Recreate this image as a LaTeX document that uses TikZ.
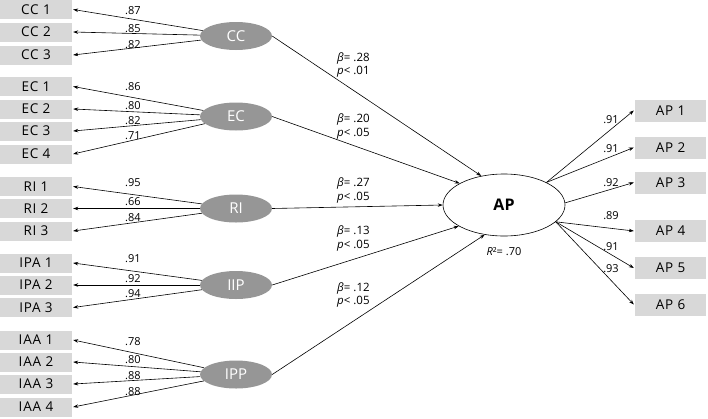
\documentclass[tikz,border=0pt]{standalone}
\usepackage{fontspec}
\setmainfont{Open Sans}
\newfontfamily\boxfont[LetterSpace=6]{Open Sans}
\usetikzlibrary{arrows.meta,shapes.geometric}
\definecolor{boxgray}{RGB}{216,216,216}
\definecolor{ellgray}{RGB}{150,150,150}
\begin{document}
\begin{tikzpicture}[x=1pt,y=-1pt,
  lbox/.style={fill=boxgray,minimum width=72pt,minimum height=19pt,inner sep=0pt,font=\boxfont\fontsize{13.5}{15}\selectfont},
  rbox/.style={fill=boxgray,minimum width=71pt,minimum height=22pt,inner sep=0pt,font=\boxfont\fontsize{13.5}{15}\selectfont},
  lat/.style={ellipse,fill=ellgray,minimum width=72pt,minimum height=28pt,inner sep=0pt,text=white,font=\fontsize{15}{17}\selectfont},
  arr/.style={-{Stealth[length=5pt,width=3.5pt]},line width=0.6pt},
  lab/.style={inner sep=0pt,font=\fontsize{11}{12}\selectfont},
  beta/.style={inner sep=0pt,align=left,font=\fontsize{11.5}{13.5}\selectfont}]
\useasboundingbox (0,0) rectangle (708,418);
% left boxes
\node[lbox] (cc1) at (36,9.5) {CC 1};
\node[lbox] (cc2) at (36,32) {CC 2};
\node[lbox] (cc3) at (36,55) {CC 3};
\node[lbox] (ec1) at (36,86.5) {EC 1};
\node[lbox] (ec2) at (36,109) {EC 2};
\node[lbox] (ec3) at (36,131) {EC 3};
\node[lbox] (ec4) at (36,154) {EC 4};
\node[lbox] (ri1) at (36,186.5) {RI 1};
\node[lbox] (ri2) at (36,208.5) {RI 2};
\node[lbox] (ri3) at (36,231) {RI 3};
\node[lbox] (ipa1) at (36,263) {IPA 1};
\node[lbox] (ipa2) at (36,285) {IPA 2};
\node[lbox] (ipa3) at (36,307.5) {IPA 3};
\node[lbox] (iaa1) at (36,340) {IAA 1};
\node[lbox] (iaa2) at (36,362) {IAA 2};
\node[lbox] (iaa3) at (36,384) {IAA 3};
\node[lbox] (iaa4) at (36,407) {IAA 4};
% latent ellipses
\node[lat] (CC) at (236,36) {CC};
\node[lat] (EC) at (236,116.5) {EC};
\node[lat] (RI) at (236,208.5) {RI};
\node[lat] (IIP) at (236,285) {IIP};
\node[lat] (IPP) at (236,374.5) {IPP};
% AP
\node[ellipse,draw,line width=0.6pt,fill=white,minimum width=122pt,minimum height=62pt,inner sep=0pt,font=\fontsize{16}{18}\selectfont\bfseries] (AP) at (504,205) {AP};
\node[lab] (r2) at (504,252) {\textit{R}²= .70};
% right boxes
\node[rbox] (ap1) at (670.5,110.5) {AP 1};
\node[rbox] (ap2) at (670.5,147.5) {AP 2};
\node[rbox] (ap3) at (670.5,182.5) {AP 3};
\node[rbox] (ap4) at (670.5,231) {AP 4};
\node[rbox] (ap5) at (670.5,268) {AP 5};
\node[rbox] (ap6) at (670.5,304.5) {AP 6};
% loadings left
\foreach \b/\l in {cc1/CC,cc2/CC,cc3/CC,ec1/EC,ec2/EC,ec3/EC,ec4/EC,ri1/RI,ri2/RI,ri3/RI,ipa1/IIP,ipa2/IIP,ipa3/IIP,iaa1/IPP,iaa2/IPP,iaa3/IPP,iaa4/IPP}
  \draw[arr] (\l) -- ([xshift=1pt]\b.east);
\node[lab] (l1) at (133,11) {.87};
\node[lab] (l2) at (133,28.5) {.85};
\node[lab] (l3) at (133,45) {.82};
\node[lab] (l4) at (133,87) {.86};
\node[lab] (l5) at (133,105.5) {.80};
\node[lab] (l6) at (133,121) {.82};
\node[lab] (l7) at (133,136) {.71};
\node[lab] (l8) at (133,183) {.95};
\node[lab] (l9) at (133,201.5) {.66};
\node[lab] (l10) at (133,217.5) {.84};
\node[lab] (l11) at (133,259) {.91};
\node[lab] (l12) at (133,279) {.92};
\node[lab] (l13) at (133,294) {.94};
\node[lab] (l14) at (133,342) {.78};
\node[lab] (l15) at (133,360) {.80};
\node[lab] (l16) at (133,376) {.88};
\node[lab] (l17) at (133,392) {.88};
% structural paths
\draw[arr] (CC.east) -- (AP.128);
\draw[arr] (EC.east) -- (AP.154);
\draw[arr] (RI.east) -- (AP.west);
\draw[arr] (IIP.east) -- (AP.205);
\draw[arr] (IPP.east) -- (AP.237);
\node[beta,anchor=west] (b1) at (337,65) {\textit{β}= .28\\\textit{p}< .01};
\node[beta,anchor=west] (b2) at (337,126.5) {\textit{β}= .20\\\textit{p}< .05};
\node[beta,anchor=west] (b3) at (337,190.5) {\textit{β}= .27\\\textit{p}< .05};
\node[beta,anchor=west] (b4) at (337,238.5) {\textit{β}= .13\\\textit{p}< .05};
\node[beta,anchor=west] (b5) at (337,295) {\textit{β}= .12\\\textit{p}< .05};
% right loadings
\draw[arr] (AP.28) -- ([xshift=-1pt]ap1.west);
\draw[arr] (AP.28) -- ([xshift=-1pt]ap2.west);
\draw[arr] (AP.2) -- ([xshift=-1pt]ap3.west);
\draw[arr] (AP.-18) -- ([xshift=-1pt]ap4.west);
\draw[arr] (AP.-18) -- ([xshift=-1pt]ap5.west);
\draw[arr] (AP.-18) -- ([xshift=-1pt]ap6.west);
\node[lab] (m1) at (611,120) {.91};
\node[lab] (m2) at (611,149) {.91};
\node[lab] (m3) at (611,183) {.92};
\node[lab] (m4) at (611,216) {.89};
\node[lab] (m5) at (611,247) {.91};
\node[lab] (m6) at (611,269) {.93};
\end{tikzpicture}
\end{document}
